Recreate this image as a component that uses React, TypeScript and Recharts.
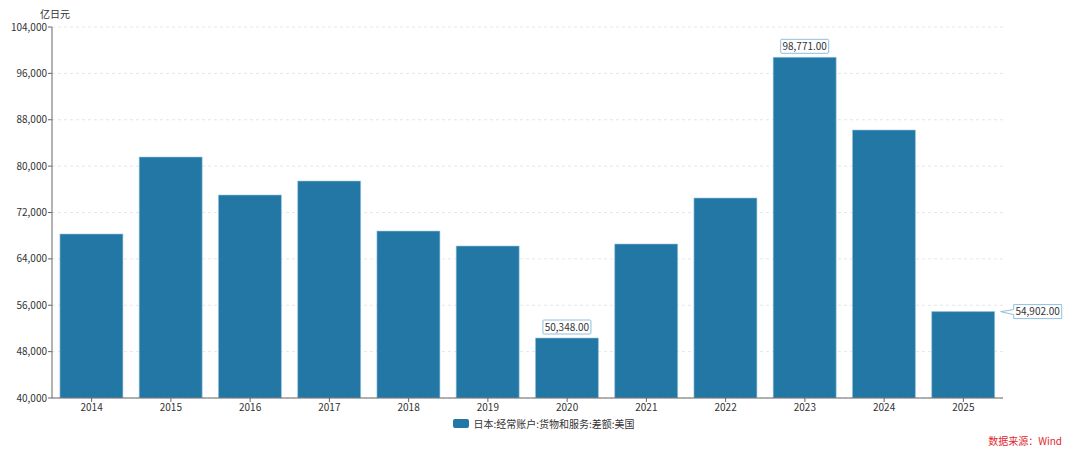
import { BarChart, Bar, XAxis, YAxis, CartesianGrid, LabelList } from "recharts"

const YEARS = ["2014", "2015", "2016", "2017", "2018", "2019", "2020", "2021", "2022", "2023", "2024", "2025"]
const SURPLUS = [68290, 81570, 75020, 77430, 68800, 66220, 50348, 66570, 74500, 98771, 86230, 54902]
const Y_TICKS = [40000, 48000, 56000, 64000, 72000, 80000, 88000, 96000, 104000]
const SERIES_NAME = "日本:经常账户:货物和服务:差额:美国"
const UNIT = "亿日元"
const SOURCE = "数据来源：Wind"

const FONT = "'Microsoft YaHei', 'Noto Sans CJK SC', 'Noto Sans', sans-serif"
const BAR = "#2277a4"
const LABEL_BORDER = "#8fbfdc"

// labels only on the min, max and last bars
const MAX_I = SURPLUS.indexOf(Math.max(...SURPLUS))
const MIN_I = SURPLUS.indexOf(Math.min(...SURPLUS))
const LAST_I = SURPLUS.length - 1

const data = YEARS.map((year, i) => ({ year, value: SURPLUS[i] }))

const fmt = (v: number) => v.toLocaleString("en-US", { minimumFractionDigits: 2, maximumFractionDigits: 2 })

function PointLabel(props: any) {
  const { x, y, width, value, index } = props
  if (index !== MAX_I && index !== MIN_I && index !== LAST_I) return null
  const text = fmt(value)
  const w = 48
  const h = 14
  if (index === LAST_I) {
    const bx = x + width + 19
    const by = y - 7
    const tipX = x + width + 6
    const tipY = y
    return (
      <g>
        <path
          d={`M${bx},${by} H${bx + w} V${by + h} H${bx} V${by + 10} L${tipX},${tipY} L${bx},${by + 5} Z`}
          fill="#fff"
          stroke={LABEL_BORDER}
          strokeWidth={1}
        />
        <text x={bx + w / 2} y={by + h / 2 + 3.5} textAnchor="middle" fontSize={10} fill="#333" fontFamily={FONT}>
          {text}
        </text>
      </g>
    )
  }
  const cx = x + width / 2
  const by = y - 4 - h
  return (
    <g>
      <rect x={cx - w / 2} y={by} width={w} height={h} fill="#fff" stroke={LABEL_BORDER} strokeWidth={1} rx={1} />
      <text x={cx} y={by + h / 2 + 3.5} textAnchor="middle" fontSize={10} fill="#333" fontFamily={FONT}>
        {text}
      </text>
    </g>
  )
}

export default function App() {
  return (
    <div style={{ position: "absolute", left: 0, top: 0, width: 1080, height: 455, background: "#fff", fontFamily: FONT }}>
      <div style={{ position: "absolute", left: 40, top: 6, fontSize: 10, color: "#333" }}>{UNIT}</div>

      <BarChart
        width={1080}
        height={455}
        data={data}
        margin={{ top: 27, right: 77, bottom: 37, left: 0 }}
        barCategoryGap="10%"
      >
        <CartesianGrid vertical={false} stroke="#e6e6e6" strokeDasharray="3 3" />
        <XAxis
          dataKey="year"
          height={20}
          tick={{ fontSize: 10, fill: "#333", fontFamily: FONT }}
          tickLine={{ stroke: "#666" }}
          axisLine={{ stroke: "#666" }}
          tickSize={4}
          interval={0}
        />
        <YAxis
          type="number"
          domain={[40000, 104000]}
          ticks={Y_TICKS}
          width={52}
          allowDataOverflow
          tickFormatter={(v: number) => v.toLocaleString("en-US")}
          tick={{ fontSize: 10, fill: "#333", fontFamily: FONT }}
          tickLine={{ stroke: "#666" }}
          axisLine={{ stroke: "#666" }}
          tickSize={4}
          tickMargin={1}
        />
        <Bar dataKey="value" name={SERIES_NAME} fill={BAR} stroke="#9cc7e0" strokeWidth={0.6} isAnimationActive={false}>
          <LabelList dataKey="value" content={PointLabel} />
        </Bar>
      </BarChart>

      {/* legend */}
      <div style={{ position: "absolute", left: 0, width: 1080, top: 416, display: "flex", justifyContent: "center", alignItems: "center", gap: 4, fontSize: 10, color: "#333" }}>
        <span style={{ display: "inline-block", width: 16, height: 9, background: BAR, borderRadius: 2, marginLeft: 8 }} />
        <span>{SERIES_NAME}</span>
      </div>

      <div style={{ position: "absolute", right: 18, top: 433, fontSize: 10, color: "#e0282d" }}>{SOURCE}</div>
    </div>
  )
}
